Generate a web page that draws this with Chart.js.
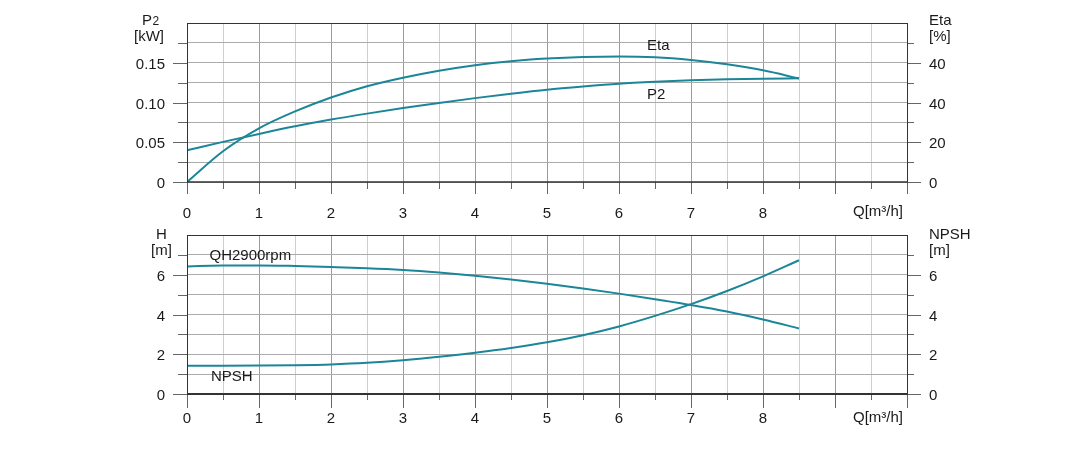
<!DOCTYPE html>
<html>
<head>
<meta charset="utf-8">
<script src="https://cdn.jsdelivr.net/npm/chart.js@4.4.0/dist/chart.umd.min.js"></script>
<style>
  html, body { margin: 0; padding: 0; background: #fff; }
  #wrap { position: relative; width: 1067px; height: 467px; overflow: hidden; }
  .pane { position: absolute; left: 0; width: 1067px; height: 225px; }
</style>
</head>
<body>
<div id="wrap">
  <div class="pane" style="top:0"><canvas id="powerChart"></canvas></div>
  <div class="pane" style="top:212px"><canvas id="headChart"></canvas></div>
</div>
<script>
// debit Q [m3/h]
const flowQ = [0, 0.5, 1, 1.5, 2, 2.5, 3, 3.5, 4, 4.5, 5, 5.5, 6, 6.5, 7, 7.5, 8, 8.5];
// puissance P2 [kW]
const powerP2 = [0.040, 0.0505, 0.0605, 0.070, 0.0785, 0.086, 0.093, 0.0995, 0.1055, 0.111, 0.116, 0.120, 0.1235, 0.126, 0.128, 0.1292, 0.130, 0.1305];
// rendement Eta [%]
const etaPct = [0, 15.5, 27, 35.5, 42.5, 48.2, 52.5, 56, 58.8, 60.8, 62.1, 62.9, 63.2, 62.8, 61.4, 59.2, 56.2, 52.1];
// hauteur H [m]
const headH = [6.42, 6.46, 6.47, 6.44, 6.39, 6.33, 6.24, 6.11, 5.95, 5.76, 5.55, 5.31, 5.05, 4.77, 4.48, 4.15, 3.75, 3.3];
// NPSH [m]
const npshM = [1.42, 1.42, 1.43, 1.45, 1.49, 1.57, 1.7, 1.87, 2.07, 2.31, 2.6, 2.96, 3.4, 3.93, 4.52, 5.18, 5.92, 6.73];

// graduations
const qTicks = [0, 0.5, 1, 1.5, 2, 2.5, 3, 3.5, 4, 4.5, 5, 5.5, 6, 6.5, 7, 7.5, 8, 8.5, 9, 9.5, 10];
const qTickLabels = ['0', '1', '2', '3', '4', '5', '6', '7', '8'];
const p2Ticks = [0, 0.025, 0.05, 0.075, 0.1, 0.125, 0.15, 0.175, 0.2];
const p2TickLabels = ['0', '0.05', '0.10', '0.15'];
const etaTicks = [0, 10, 20, 30, 40, 50, 60, 70, 80];
const etaTickLabels = ['0', '20', '40', '40'];
const hTicks = [0, 1, 2, 3, 4, 5, 6, 7, 8];
const hTickLabels = ['0', '2', '4', '6'];

const CURVE = '#1b8698';
const TEXT = '#1a1a1a';
const FONT = '"Liberation Sans", Arial, sans-serif';

Chart.defaults.font.family = FONT;
Chart.defaults.font.size = 15;
Chart.defaults.color = TEXT;

function setTicks(values) {
  return (scale) => { scale.ticks = values.map(v => ({ value: v })); };
}

// cadre, graduations et textes
const axisDecor = {
  id: 'axisDecor',
  afterDraw(chart, args, opts) {
    const { ctx, chartArea: a, scales } = chart;
    const al = (v) => Math.round(v) + 0.5;
    ctx.save();
    ctx.strokeStyle = '#666';
    ctx.lineWidth = 1;
    ctx.beginPath();
    scales.x.ticks.forEach(t => {
      const px = al(scales.x.getPixelForValue(t.value));
      const len = Number.isInteger(t.value) ? opts.xMajor : opts.xMinor;
      ctx.moveTo(px, a.bottom);
      ctx.lineTo(px, a.bottom + len);
    });
    const yl = scales[opts.leftId];
    yl.ticks.forEach(t => {
      const py = al(yl.getPixelForValue(t.value));
      const len = t.label !== '' ? 14 : 9;
      ctx.moveTo(a.left, py);
      ctx.lineTo(a.left - len, py);
    });
    const yr = scales[opts.rightId];
    yr.ticks.forEach(t => {
      const py = al(yr.getPixelForValue(t.value));
      const len = t.label !== '' ? 14 : 7;
      ctx.moveTo(a.right, py);
      ctx.lineTo(a.right + len, py);
    });
    ctx.stroke();

    ctx.strokeStyle = '#333';
    ctx.beginPath();
    ctx.moveTo(a.left, al(a.top));
    ctx.lineTo(a.right, al(a.top));
    ctx.moveTo(al(a.left), a.top);
    ctx.lineTo(al(a.left), a.bottom);
    ctx.moveTo(al(a.right), a.top);
    ctx.lineTo(al(a.right), a.bottom);
    ctx.stroke();
    ctx.lineWidth = opts.bottomWidth;
    ctx.beginPath();
    ctx.moveTo(a.left, Math.round(a.bottom));
    ctx.lineTo(a.right + 1, Math.round(a.bottom));
    ctx.stroke();

    ctx.fillStyle = TEXT;
    ctx.textBaseline = 'alphabetic';
    ctx.textAlign = 'left';
    opts.texts.forEach(item => {
      ctx.font = (item.size || 15) + 'px ' + FONT;
      ctx.fillText(item.t, item.x, item.y);
      if (item.sub) {
        const w = ctx.measureText(item.t).width;
        ctx.font = '12px ' + FONT;
        ctx.fillText(item.sub, item.x + w + 0.5, item.y);
      }
    });
    ctx.restore();
  }
};

function xScale(labelPad) {
  return {
    type: 'linear',
    min: 0,
    max: 10,
    afterBuildTicks: setTicks(qTicks),
    afterFit: (s) => { s.height = 43; s.paddingLeft = 0; s.paddingRight = 0; },
    border: { display: false },
    grid: {
      drawTicks: false,
      lineWidth: 1,
      color: (c) => Number.isInteger(c.tick.value) ? '#9a9a9a' : '#cfcfcf'
    },
    ticks: {
      autoSkip: false,
      maxRotation: 0,
      padding: labelPad,
      callback: (v) => Number.isInteger(v) && v <= 8 ? qTickLabels[v] : ''
    }
  };
}

function yScale(pos, max, ticks, labels, every, withGrid) {
  return {
    type: 'linear',
    position: pos,
    min: 0,
    max: max,
    afterBuildTicks: setTicks(ticks),
    afterFit: (s) => {
      s.width = pos === 'left' ? 187 : 160;
      s.paddingTop = 0;
      s.paddingBottom = 0;
    },
    border: { display: false },
    grid: {
      drawTicks: false,
      drawOnChartArea: withGrid,
      color: '#ababab',
      lineWidth: 1
    },
    ticks: {
      autoSkip: false,
      padding: 22,
      labelOffset: 2,
      callback: (v, i) => i % every === 0 ? labels[i / every] : ''
    }
  };
}

function curve(data, axisId) {
  return {
    data: flowQ.map((q, i) => ({ x: q, y: data[i] })),
    yAxisID: axisId,
    borderColor: CURVE,
    borderWidth: 2,
    pointRadius: 0,
    fill: false,
    cubicInterpolationMode: 'monotone'
  };
}

const baseOptions = {
  responsive: true,
  maintainAspectRatio: false,
  animation: false,
  events: [],
  layout: { padding: { top: 23, left: 0, right: 0, bottom: 0 } },
  plugins: { legend: { display: false }, tooltip: { enabled: false } }
};

new Chart(document.getElementById('powerChart'), {
  type: 'line',
  data: {
    datasets: [curve(powerP2, 'y'), curve(etaPct, 'yEta')]
  },
  options: {
    ...baseOptions,
    scales: {
      x: xScale(23),
      y: yScale('left', 0.2, p2Ticks, p2TickLabels, 2, true),
      yEta: yScale('right', 80, etaTicks, etaTickLabels, 2, false)
    },
    plugins: {
      ...baseOptions.plugins,
      axisDecor: {
        leftId: 'y', rightId: 'yEta', xMajor: 12, xMinor: 7, bottomWidth: 1.5,
        texts: [
          { t: 'P', sub: '2', x: 142, y: 25 },
          { t: '[kW]', x: 134, y: 41 },
          { t: 'Eta', x: 929, y: 25 },
          { t: '[%]', x: 929, y: 41 },
          { t: 'Eta', x: 647, y: 50 },
          { t: 'P2', x: 647, y: 99 },
          { t: 'Q[m³/h]', x: 853, y: 216 }
        ]
      }
    }
  },
  plugins: [axisDecor]
});

new Chart(document.getElementById('headChart'), {
  type: 'line',
  data: {
    datasets: [curve(headH, 'y'), curve(npshM, 'yNpsh')]
  },
  options: {
    ...baseOptions,
    scales: {
      x: xScale(16),
      y: yScale('left', 8, hTicks, hTickLabels, 2, true),
      yNpsh: yScale('right', 8, hTicks, hTickLabels, 2, false)
    },
    plugins: {
      ...baseOptions.plugins,
      axisDecor: {
        leftId: 'y', rightId: 'yNpsh', xMajor: 14, xMinor: 6, bottomWidth: 2,
        texts: [
          { t: 'H', x: 156, y: 27 },
          { t: '[m]', x: 151, y: 43 },
          { t: 'NPSH', x: 929, y: 27 },
          { t: '[m]', x: 929, y: 43 },
          { t: 'QH2900rpm', x: 209.5, y: 48 },
          { t: 'NPSH', x: 211, y: 168.5 },
          { t: 'Q[m³/h]', x: 853, y: 210 }
        ]
      }
    }
  },
  plugins: [axisDecor]
});
</script>
</body>
</html>
